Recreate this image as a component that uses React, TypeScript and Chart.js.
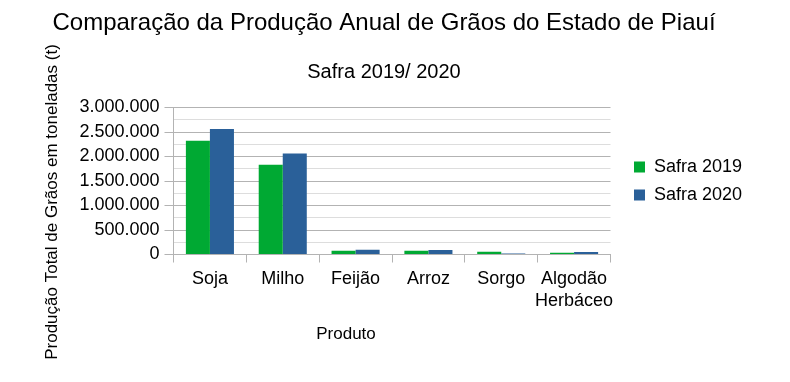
import React, { useEffect, useRef } from "react";
import { Chart, registerables } from "chart.js";

Chart.register(...registerables);

const categories: (string | string[])[] = ["Soja", "Milho", "Feijão", "Arroz", "Sorgo", ["Algodão", "Herbáceo"]];
const safra2019: number[] = [2320000, 1830000, 75000, 75000, 57000, 35000];
const safra2020: number[] = [2560000, 2060000, 97000, 92000, 20000, 50000];
const seriesLabels: string[] = ["Safra 2019", "Safra 2020"];
const seriesColors: string[] = ["#00a933", "#2a6099"];
const mainTitle = "Comparação da Produção Anual de Grãos do Estado de Piauí";
const subTitle = "Safra 2019/ 2020";
const yTitle = "Produção Total de Grãos em toneladas (t)";
const xTitle = "Produto";

const FONT = "'Liberation Sans', Arial, sans-serif";
const TEXT = "#000000";
const MAJOR = "#b3b3b3";
const MINOR = "#dddddd";

const fmt = (v: number) => String(Math.round(v)).replace(/\B(?=(\d{3})+(?!\d))/g, ".");

const axisTitlePlugin = {
  id: "axisTitlesCustom",
  afterDraw(chart: any) {
    const ctx = chart.ctx;
    ctx.save();
    ctx.fillStyle = TEXT;
    ctx.font = `17px ${FONT}`;
    ctx.textAlign = "center";
    ctx.textBaseline = "middle";
    ctx.fillText(xTitle, 346, 334);
    ctx.translate(52, 202);
    ctx.rotate(-Math.PI / 2);
    ctx.fillText(yTitle, 0, 0);
    ctx.restore();
  },
};

export default function App() {
  const ref = useRef<HTMLCanvasElement | null>(null);
  useEffect(() => {
    document.body.style.margin = "0";
    Chart.defaults.font.family = FONT;
    Chart.defaults.color = TEXT;
    const chart = new Chart(ref.current as HTMLCanvasElement, {
      type: "bar",
      data: {
        labels: categories,
        datasets: [
          { label: seriesLabels[0], data: safra2019, backgroundColor: seriesColors[0], borderWidth: 0, yAxisID: "y" },
          { label: seriesLabels[1], data: safra2020, backgroundColor: seriesColors[1], borderWidth: 0, yAxisID: "y" },
        ],
      },
      options: {
        animation: false,
        responsive: true,
        maintainAspectRatio: false,
        devicePixelRatio: 1,
        layout: { padding: { left: 24, right: 46, top: 0, bottom: 0 } },
        datasets: { bar: { categoryPercentage: 0.66, barPercentage: 1 } },
        scales: {
          x: {
            offset: true,
            grid: {
              offset: true,
              drawOnChartArea: true,
              color: (c: any) => (c.index === categories.length ? MAJOR : "rgba(0,0,0,0)"),
              tickColor: MAJOR,
              tickLength: 8,
            },
            border: { display: true, color: MAJOR },
            ticks: {
              autoSkip: false,
              maxRotation: 0,
              minRotation: 0,
              padding: 5,
              color: TEXT,
              font: { size: 18, lineHeight: 1.25 },
            },
            afterFit: (s: any) => {
              s.height = 127.5;
            },
          },
          y: {
            min: 0,
            max: 3000000,
            position: "left",
            grid: {
              color: (c: any) => (c.tick && c.tick.value % 500000 === 0 ? MAJOR : MINOR),
              tickColor: (c: any) => (c.tick && c.tick.value % 500000 === 0 ? MAJOR : "rgba(0,0,0,0)"),
              tickLength: 9,
            },
            border: { display: true, color: MAJOR },
            ticks: {
              stepSize: 250000,
              autoSkip: false,
              padding: 5,
              color: TEXT,
              font: { size: 18 },
              callback: (v: any) => (Number(v) % 500000 === 0 ? fmt(Number(v)) : ""),
            },
            afterFit: (s: any) => {
              s.width = 149.5;
            },
          },
          spacer: {
            type: "linear",
            position: "right",
            display: true,
            grid: { display: false },
            border: { display: false },
            ticks: { display: false },
            afterFit: (s: any) => {
              s.width = 13.5;
            },
          },
        },
        plugins: {
          title: {
            display: true,
            text: mainTitle,
            color: TEXT,
            font: { size: 24, weight: "normal" },
            padding: { top: 9, bottom: 9 },
          },
          subtitle: {
            display: true,
            text: subTitle,
            color: TEXT,
            font: { size: 20, weight: "normal" },
            padding: { top: 13.2, bottom: 23.5 },
          },
          legend: {
            display: true,
            position: "right",
            align: "center",
            fullSize: false,
            labels: {
              boxWidth: 11,
              boxHeight: 11,
              padding: 10,
              color: TEXT,
              font: { size: 18 },
            },
          },
          tooltip: { enabled: false },
        },
      },
      plugins: [axisTitlePlugin],
    } as any);
    return () => chart.destroy();
  }, []);
  return (
    <div style={{ position: "relative", width: 790, height: 382, background: "#ffffff" }}>
      <canvas ref={ref} />
    </div>
  );
}
